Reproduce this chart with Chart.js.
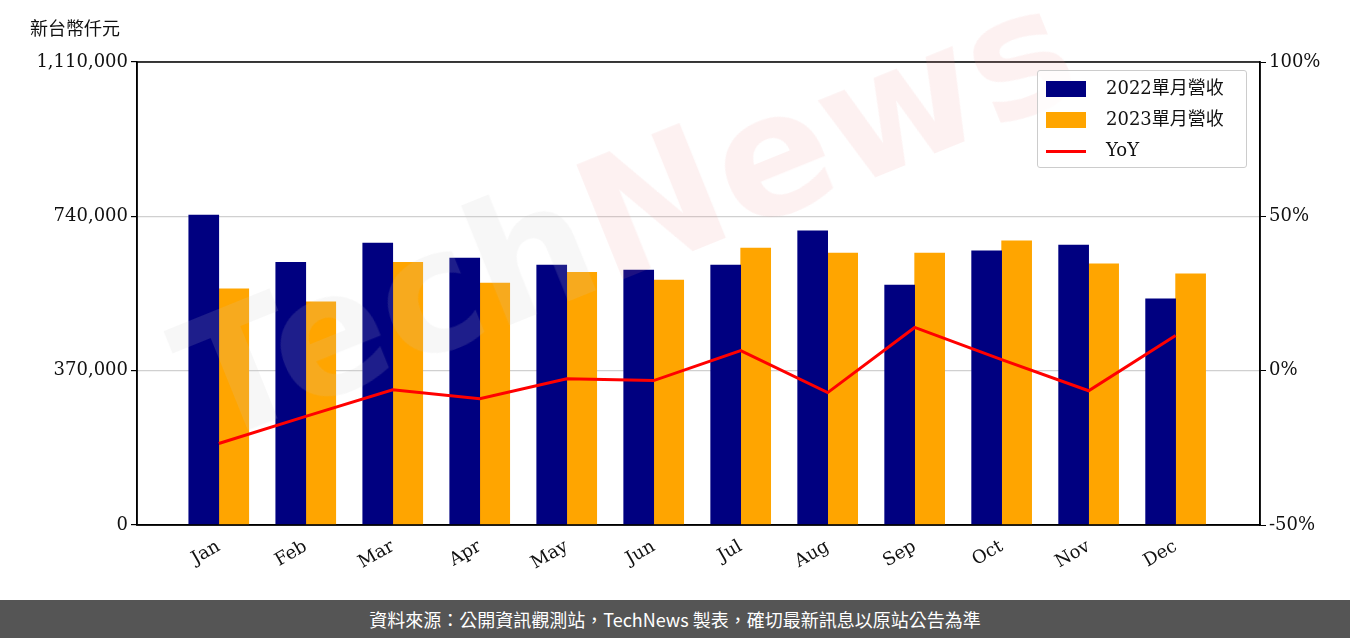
<!DOCTYPE html>
<html>
<head>
<meta charset="utf-8">
<script src="https://cdn.jsdelivr.net/npm/chart.js@4/dist/chart.umd.min.js"></script>
<style>
  body { margin: 0; background: #fff; width: 1350px; height: 638px; overflow: hidden; position: relative; }
  #wrap { position: absolute; left: 0; top: 0; width: 1350px; height: 600px; }
  #unit { position: absolute; left: 30px; top: 14px; font: 18px "Noto Sans CJK TC", sans-serif; color: #111; }
  #legend { position: absolute; left: 1037px; top: 70px; width: 208px; height: 96px; border: 1px solid #ccc; border-radius: 3px; background: rgba(255,255,255,0.8);
    font: 18px "DejaVu Serif", "Noto Sans CJK TC", serif; color: #111; }
  .row { position: absolute; left: 8px; height: 26px; line-height: 26px; }
  .sw { display: inline-block; width: 40px; height: 16px; vertical-align: middle; margin-right: 20px; }
  #foot { position: absolute; left: 0; top: 600px; width: 1350px; height: 38px; background: #555; color: #fff;
    font: 18px "Noto Sans CJK TC", sans-serif; text-align: center; line-height: 38px; }
  #wm { position: absolute; left: 150px; top: 300px; font: bold 170px "DejaVu Sans", sans-serif; color: rgba(200,200,200,0.15);
    transform: rotate(-22deg); transform-origin: left top; pointer-events: none; }
  #wm span { color: rgba(240,140,140,0.12); }
</style>
</head>
<body>
<div id="wrap"><canvas id="chart" width="1350" height="600"></canvas></div>
<div id="wm">Tech<span>News</span></div>
<div id="unit">新台幣仟元</div>
<div id="legend">
  <div class="row" style="top:4px"><span class="sw" style="background:#000080"></span>2022單月營收</div>
  <div class="row" style="top:35px"><span class="sw" style="background:#ffa500"></span>2023單月營收</div>
  <div class="row" style="top:66px"><span class="sw" style="background:#ff0000;height:3px"></span>YoY</div>
</div>
<div id="foot">資料來源：公開資訊觀測站，TechNews 製表，確切最新訊息以原站公告為準</div>
<script>
const months = ["Jan","Feb","Mar","Apr","May","Jun","Jul","Aug","Sep","Oct","Nov","Dec"];
const rev2022 = [743000, 630000, 676000, 640000, 623000, 611000, 623000, 705000, 575000, 657000, 671000, 542000];
const rev2023 = [566000, 535000, 630000, 580000, 606000, 587000, 664000, 652000, 652000, 681000, 626000, 602000];
const yoy = [-23.6, -14.8, -6.2, -9.1, -2.6, -3.2, 6.5, -7.1, 14.0, 3.6, -6.5, 11.4];
const leftTicks = [0, 370000, 740000, 1110000];
const rightTicks = [-50, 0, 50, 100];

const tickFont = { family: "'DejaVu Serif', serif", size: 18 };
const pts = arr => arr.map((v, i) => ({ x: i, y: v }));

const frame = {
  id: "frame",
  afterDraw(c) {
    const a = c.chartArea, ctx = c.ctx;
    ctx.save(); ctx.strokeStyle = "#000"; ctx.lineWidth = 1.5;
    ctx.strokeRect(a.left, a.top, a.right - a.left, a.bottom - a.top);
    ctx.restore();
  }
};

new Chart(document.getElementById("chart").getContext("2d"), {
  data: {
    datasets: [
      { type: "line", label: "YoY", data: pts(yoy), yAxisID: "y2", borderColor: "#ff0000", borderWidth: 3, pointRadius: 0, order: 0 },
      { type: "bar", label: "2022單月營收", data: pts(rev2022), yAxisID: "y", backgroundColor: "#000080", barThickness: 30, order: 1 },
      { type: "bar", label: "2023單月營收", data: pts(rev2023), yAxisID: "y", backgroundColor: "#ffa500", barThickness: 30, order: 1 }
    ]
  },
  plugins: [frame],
  options: {
    responsive: false, animation: false,
    layout: { padding: { top: 62, left: 0, right: 0, bottom: 0 } },
    plugins: { legend: { display: false }, tooltip: { enabled: false } },
    scales: {
      x: {
        type: "linear", offset: false, min: -0.94, max: 11.97, grid: { display: false },
        border: { color: "#000", width: 1.5 },
        afterBuildTicks: s => { s.ticks = months.map((m, i) => ({ value: i })); },
        afterFit: s => { s.height = 75; },
        ticks: { callback: v => months[v], color: "#111", font: tickFont, maxRotation: 30, minRotation: 30, autoSkip: false }
      },
      y: {
        position: "left", min: 0, max: 1110000,
        afterBuildTicks: s => { s.ticks = leftTicks.map(v => ({ value: v })); },
        afterFit: s => { s.width = 137; },
        grid: { color: "#d0d0d0", lineWidth: 1.2, tickColor: "#000", tickLength: 6 },
        border: { color: "#000", width: 1.5 },
        ticks: { color: "#111", font: tickFont, callback: v => v.toLocaleString("en-US") }
      },
      y2: {
        position: "right", min: -50, max: 100,
        afterBuildTicks: s => { s.ticks = rightTicks.map(v => ({ value: v })); },
        afterFit: s => { s.width = 90; },
        grid: { drawOnChartArea: false, tickColor: "#000", tickLength: 6 },
        border: { color: "#000", width: 1.5 },
        ticks: { color: "#111", font: tickFont, callback: v => v + "%" }
      }
    }
  }
});
</script>
</body>
</html>
